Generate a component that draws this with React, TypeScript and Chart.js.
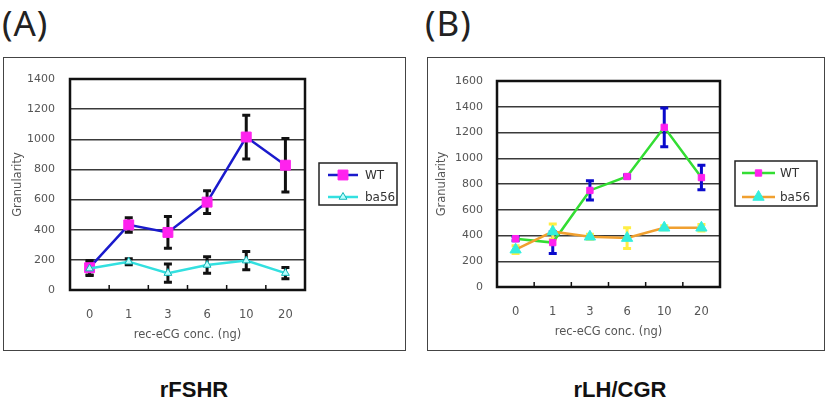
import React, { useEffect, useRef } from 'react';
import { Chart, registerables } from 'chart.js';

Chart.register(...registerables);

const categories = ['0', '1', '3', '6', '10', '20'];

// Panel A (rFSHR)
const aWT = [148, 432, 382, 583, 1015, 828];
const aWTErr = [48, 48, 105, 75, 145, 178];
const aBa56 = [142, 188, 112, 166, 195, 112];
const aBa56Err = [45, 20, 60, 55, 60, 38];
const aYMax = 1400;

// Panel B (rLH/CGR)
const bWT = [375, 345, 750, 858, 1240, 850];
const bWTErr = [15, 85, 75, 12, 150, 95];
const bBa56 = [290, 430, 390, 380, 460, 460];
const bBa56Err = [30, 60, 20, 80, 15, 25];
const bYMax = 1600;

const seriesNames = ['WT', 'ba56'];
const xTitle = 'rec-eCG conc. (ng)';
const yTitle = 'Granularity';

const FONT = "'DejaVu Sans', sans-serif";
const TEXT_COLOR = '#555';

const framePlugin = {
  id: 'frameAndTicks',
  beforeDatasetsDraw(chart: any) {
    const { ctx, chartArea } = chart;
    const x = chart.scales.x;
    ctx.save();
    ctx.strokeStyle = '#111';
    ctx.lineWidth = 2.5;
    ctx.strokeRect(chartArea.left, chartArea.top, chartArea.right - chartArea.left, chartArea.bottom - chartArea.top);
    ctx.lineWidth = 1.5;
    ctx.beginPath();
    const n = chart.data.labels.length;
    for (let i = 0; i < n - 1; i++) {
      const px = (x.getPixelForValue(i) + x.getPixelForValue(i + 1)) / 2;
      ctx.moveTo(px, chartArea.bottom);
      ctx.lineTo(px, chartArea.bottom - 5);
    }
    ctx.stroke();
    ctx.restore();
  },
};

const errorBarPlugin = {
  id: 'errorBars',
  beforeDatasetsDraw(chart: any) {
    const { ctx } = chart;
    const x = chart.scales.x;
    const y = chart.scales.y;
    chart.data.datasets.forEach((ds: any) => {
      if (!ds.errs) return;
      ctx.save();
      ctx.strokeStyle = ds.errColor;
      ctx.lineWidth = 3;
      ctx.lineCap = 'butt';
      ds.data.forEach((v: number, j: number) => {
        const px = x.getPixelForValue(j);
        const top = y.getPixelForValue(v + ds.errs[j]);
        const bot = y.getPixelForValue(v - ds.errs[j]);
        ctx.beginPath();
        ctx.moveTo(px, top);
        ctx.lineTo(px, bot);
        ctx.moveTo(px - 4, top);
        ctx.lineTo(px + 4, top);
        ctx.moveTo(px - 4, bot);
        ctx.lineTo(px + 4, bot);
        ctx.stroke();
      });
      ctx.restore();
    });
  },
};

function drawMarker(ctx: any, style: string, cx: number, cy: number, r: number, fill: string, stroke: string) {
  ctx.save();
  ctx.fillStyle = fill;
  ctx.strokeStyle = stroke;
  ctx.lineWidth = 1;
  ctx.beginPath();
  if (style === 'rect') {
    const s = Math.SQRT1_2 * r;
    ctx.rect(cx - s, cy - s, 2 * s, 2 * s);
  } else {
    const h = r * Math.sin((2 * Math.PI) / 3);
    ctx.moveTo(cx, cy - r);
    ctx.lineTo(cx + h, cy + r * 0.5);
    ctx.lineTo(cx - h, cy + r * 0.5);
    ctx.closePath();
  }
  ctx.fill();
  ctx.stroke();
  ctx.restore();
}

function legendPlugin(box: { x: number; y: number; w: number; h: number; lineX1: number; lineX2: number; textX: number; rowY: number[] }) {
  return {
    id: 'customLegend',
    afterDraw(chart: any) {
      const { ctx } = chart;
      ctx.save();
      ctx.fillStyle = '#fff';
      ctx.fillRect(box.x, box.y, box.w, box.h);
      ctx.strokeStyle = '#222';
      ctx.lineWidth = 1.5;
      ctx.strokeRect(box.x, box.y, box.w, box.h);
      chart.data.datasets.forEach((ds: any, i: number) => {
        const yy = box.rowY[i];
        ctx.strokeStyle = ds.borderColor;
        ctx.lineWidth = ds.borderWidth;
        ctx.beginPath();
        ctx.moveTo(box.lineX1, yy);
        ctx.lineTo(box.lineX2, yy);
        ctx.stroke();
        drawMarker(ctx, ds.pointStyle, (box.lineX1 + box.lineX2) / 2, yy, ds.pointRadius, ds.pointBackgroundColor, ds.pointBorderColor);
        ctx.fillStyle = '#333';
        ctx.font = `12px ${FONT}`;
        ctx.textBaseline = 'middle';
        ctx.textAlign = 'left';
        ctx.fillText(ds.label, box.textX, yy + 1);
      });
      ctx.restore();
    },
  };
}

type PanelProps = {
  left: number;
  top: number;
  width: number;
  height: number;
  yMax: number;
  wt: number[];
  wtErr: number[];
  ba: number[];
  baErr: number[];
  colors: { wtLine: string; wtPoint: string; wtErr: string; baLine: string; baFill: string; baBorder: string; baErr: string };
  wtRadius: number;
  baRadius: number;
  padding: { left: number; top: number; right: number; bottom: number };
  yWidth: number;
  yTickPad: number;
  legend: { x: number; y: number; w: number; h: number; lineX1: number; lineX2: number; textX: number; rowY: number[] };
};

function Panel(p: PanelProps) {
  const ref = useRef<HTMLCanvasElement | null>(null);
  useEffect(() => {
    if (!ref.current) return;
    const chart = new Chart(ref.current, {
      type: 'line',
      data: {
        labels: categories,
        datasets: [
          {
            label: seriesNames[0],
            data: p.wt,
            borderColor: p.colors.wtLine,
            borderWidth: 2.5,
            pointStyle: 'rect',
            pointRadius: p.wtRadius,
            pointBackgroundColor: p.colors.wtPoint,
            pointBorderColor: p.colors.wtPoint,
            pointBorderWidth: 1,
            tension: 0,
            order: 2,
            errs: p.wtErr,
            errColor: p.colors.wtErr,
          } as any,
          {
            label: seriesNames[1],
            data: p.ba,
            borderColor: p.colors.baLine,
            borderWidth: 2.5,
            pointStyle: 'triangle',
            pointRadius: p.baRadius,
            pointBackgroundColor: p.colors.baFill,
            pointBorderColor: p.colors.baBorder,
            pointBorderWidth: 1,
            tension: 0,
            order: 1,
            errs: p.baErr,
            errColor: p.colors.baErr,
          } as any,
        ],
      },
      options: {
        animation: false,
        responsive: false,
        devicePixelRatio: 1,
        layout: { padding: p.padding },
        plugins: { legend: { display: false }, tooltip: { enabled: false } },
        scales: {
          x: {
            type: 'category',
            offset: true,
            grid: { display: false, drawTicks: false },
            border: { display: false },
            ticks: { padding: 18, color: TEXT_COLOR, font: { family: FONT, size: 11.5 }, maxRotation: 0 },
            title: { display: true, text: xTitle, color: TEXT_COLOR, font: { family: FONT, size: 11.5 }, padding: { top: 0, bottom: 0 } },
            afterFit: (s: any) => {
              s.height = 52;
            },
          },
          y: {
            min: 0,
            max: p.yMax,
            ticks: { stepSize: 200, padding: p.yTickPad, color: TEXT_COLOR, font: { family: FONT, size: 11 }, callback: (v: any) => String(v) },
            grid: { color: '#3a3a3a', lineWidth: 1.5, drawTicks: false },
            border: { display: false },
            title: { display: true, text: yTitle, color: TEXT_COLOR, font: { family: FONT, size: 11.5 }, padding: { top: 0, bottom: 0 } },
            afterFit: (s: any) => {
              s.width = p.yWidth;
            },
          },
        },
      } as any,
      plugins: [framePlugin, errorBarPlugin, legendPlugin(p.legend)],
    });
    return () => chart.destroy();
  }, []);
  return (
    <>
      <div
        style={{
          position: 'absolute',
          left: p.left,
          top: p.top,
          width: p.width,
          height: p.height,
          border: '1.5px solid #444',
          boxSizing: 'border-box',
        }}
      />
      <canvas
        ref={ref}
        width={p.width}
        height={p.height}
        style={{ position: 'absolute', left: p.left, top: p.top, width: p.width, height: p.height, display: 'block' }}
      />
    </>
  );
}

const labelStyle: React.CSSProperties = {
  position: 'absolute',
  top: 5,
  fontFamily: "'Noto Sans', sans-serif",
  fontSize: 35,
  lineHeight: 1,
  color: '#222',
  letterSpacing: 1,
};

const captionStyle: React.CSSProperties = {
  position: 'absolute',
  top: 379,
  width: 200,
  textAlign: 'center',
  fontFamily: "'Liberation Sans', Arial, sans-serif",
  fontWeight: 'bold',
  fontSize: 22,
  lineHeight: 1,
  color: '#111',
};

export default function App() {
  return (
    <div style={{ position: 'absolute', left: 0, top: 0, width: 827, height: 402, background: '#fff', overflow: 'hidden' }}>
      <div style={{ ...labelStyle, left: 2 }}>(A)</div>
      <div style={{ ...labelStyle, left: 425 }}>(B)</div>
      <Panel
        left={3}
        top={57}
        width={403}
        height={294}
        yMax={aYMax}
        wt={aWT}
        wtErr={aWTErr}
        ba={aBa56}
        baErr={aBa56Err}
        colors={{ wtLine: '#1a1acc', wtPoint: '#ff22ee', wtErr: '#111', baLine: '#33e0e0', baFill: '#b8ffff', baBorder: '#10b8b8', baErr: '#111' }}
        wtRadius={7}
        baRadius={4.5}
        padding={{ left: 8, top: 22, right: 101, bottom: 9 }}
        yWidth={59}
        yTickPad={15}
        legend={{ x: 316, y: 106, w: 78, h: 42, lineX1: 325, lineX2: 355, textX: 362, rowY: [118, 140] }}
      />
      <Panel
        left={427}
        top={57}
        width={398}
        height={294}
        yMax={bYMax}
        wt={bWT}
        wtErr={bWTErr}
        ba={bBa56}
        baErr={bBa56Err}
        colors={{ wtLine: '#33dd33', wtPoint: '#ff22ee', wtErr: '#0a0acc', baLine: '#f0a030', baFill: '#33eedd', baBorder: '#33eedd', baErr: '#ffee44' }}
        wtRadius={4.5}
        baRadius={6.5}
        padding={{ left: 8, top: 24, right: 105, bottom: 12 }}
        yWidth={62}
        yTickPad={14}
        legend={{ x: 308, y: 104, w: 82, h: 45, lineX1: 315, lineX2: 348, textX: 353, rowY: [116, 140] }}
      />
      <div style={{ ...captionStyle, left: 94 }}>rFSHR</div>
      <div style={{ ...captionStyle, left: 520 }}>rLH/CGR</div>
    </div>
  );
}
